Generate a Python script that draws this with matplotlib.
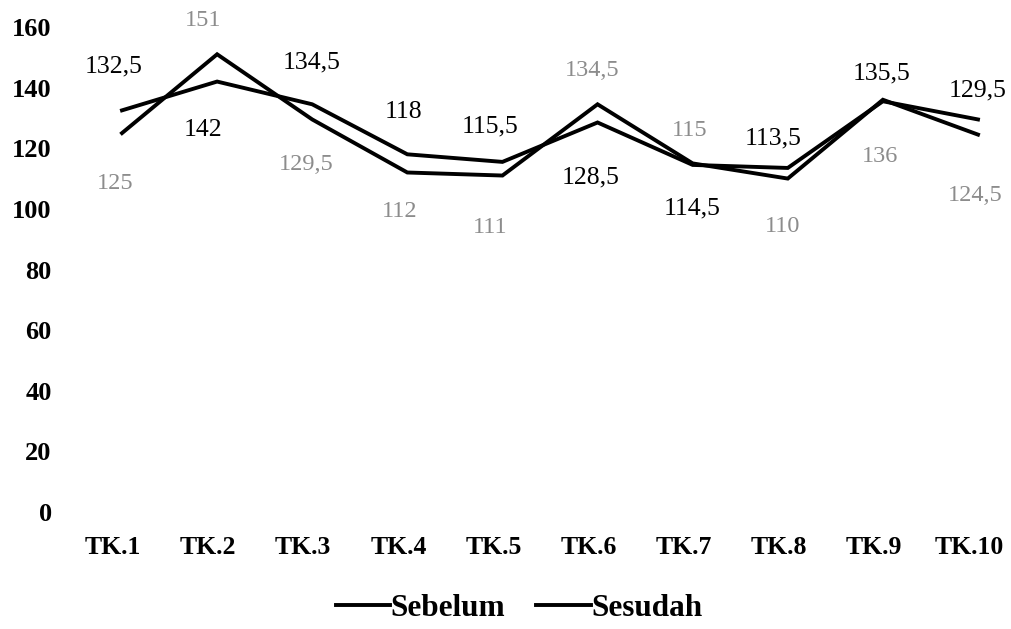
import matplotlib
matplotlib.use("Agg")
import matplotlib.pyplot as plt
from matplotlib.transforms import ScaledTranslation

categories = ["TK.1", "TK.2", "TK.3", "TK.4", "TK.5", "TK.6", "TK.7", "TK.8", "TK.9", "TK.10"]
sebelum = [125, 151, 129.5, 112, 111, 134.5, 115, 110, 136, 124.5]
sesudah = [132.5, 142, 134.5, 118, 115.5, 128.5, 114.5, 113.5, 135.5, 129.5]
yticks = [0, 20, 40, 60, 80, 100, 120, 140, 160]

# label offsets in pixels (dx, dy; positive dy = up)
off_seb = [(-7, -50), (-14, 34), (-6, -45), (-8, -39), (-12, -52),
           (-5, 34), (-3, 33), (-5, -48), (-3, -57), (-3, -61)]
off_ses = [(-8, 44), (-14, -48), (-1, 42), (-4, 42), (-12, 35),
           (-7, -55), (-1, -44), (-15, 30), (-1, 28), (0, 29)]

serif = ["Liberation Serif", "DejaVu Serif"]

fig = plt.figure(figsize=(10.12, 6.29), dpi=100)
W, H = 1012, 629
left_px, right_px = 60, 1000
top_px, bot_px = 27, 512
ax = fig.add_axes([left_px / W, 1 - bot_px / H, (right_px - left_px) / W, (bot_px - top_px) / H])

x = list(range(len(categories)))
ax.plot(x, sebelum, color="black", lw=2.8, label="Sebelum", solid_joinstyle="miter")
ax.plot(x, sesudah, color="black", lw=2.8, label="Sesudah", solid_joinstyle="miter")

def fmt(v):
    return str(v).replace(".", ",") if v % 1 else str(int(v))

for i, v in enumerate(sebelum):
    ax.annotate(fmt(v), (i, v),
                xytext=off_seb[i], textcoords="offset pixels", ha="center", va="center",
                fontsize=17.5, family=serif, color="#8c8c8c", annotation_clip=False)
for i, v in enumerate(sesudah):
    ax.annotate(fmt(v), (i, v),
                xytext=off_ses[i], textcoords="offset pixels", ha="center", va="center",
                fontsize=18.5, family=serif, color="black", annotation_clip=False)

scale = (978 - 122) / 9.0
xmin = -(122 - left_px) / scale
xmax = xmin + (right_px - left_px) / scale
ax.set_xlim(xmin, xmax)
ax.set_ylim(0, 160)
ax.set_xticks(x)
ax.set_xticklabels(categories, fontsize=18.5, fontweight="bold", family=serif)
ax.set_yticks(yticks)
ax.set_yticklabels([str(t) for t in yticks], fontsize=19, fontweight="bold", family=serif)
ax.tick_params(axis="x", length=0, pad=17)
ax.tick_params(axis="y", length=0, pad=6)
shift = ScaledTranslation(-9 / 100, 0, fig.dpi_scale_trans)
for lab in ax.get_xticklabels():
    lab.set_transform(lab.get_transform() + shift)
for s in ax.spines.values():
    s.set_visible(False)

leg = fig.legend(loc="center", bbox_to_anchor=(519 / W, 1 - 608 / H), ncol=2, frameon=False,
                 handlelength=1.75, handletextpad=0.0, columnspacing=1.0,
                 prop={"family": serif, "weight": "bold", "size": 22.5})

fig.savefig("out.png", dpi=100)
